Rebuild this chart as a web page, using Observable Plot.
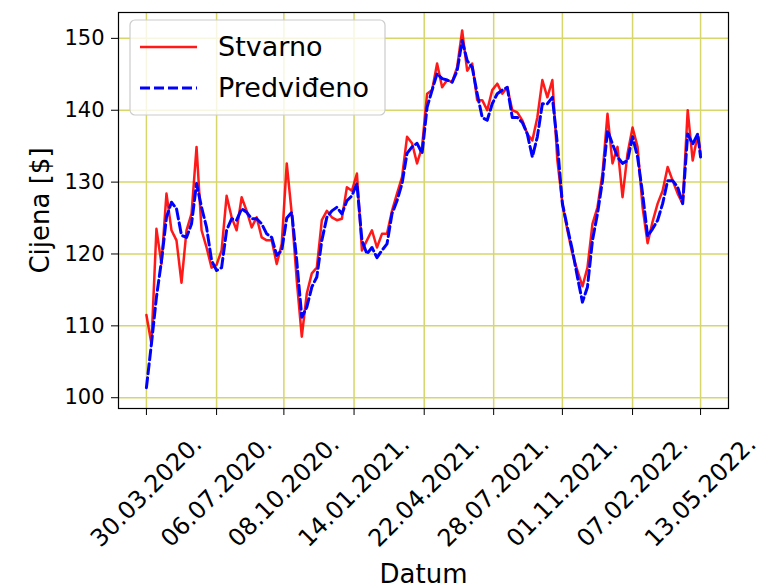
<!DOCTYPE html>
<html>
<head>
<meta charset="utf-8">
<script src="https://cdn.jsdelivr.net/npm/d3@7"></script>
<script src="https://cdn.jsdelivr.net/npm/@observablehq/plot@0.6"></script>
<style>
  html, body { margin: 0; padding: 0; background: white; }
</style>
</head>
<body>
<div id="chart"></div>
<script>
const dates = [
  "2020-03-30","2020-04-06","2020-04-13","2020-04-20","2020-04-27","2020-05-04","2020-05-11","2020-05-18","2020-05-25","2020-06-01",
  "2020-06-08","2020-06-15","2020-06-22","2020-06-29","2020-07-06","2020-07-13","2020-07-20","2020-07-27","2020-08-03","2020-08-10",
  "2020-08-17","2020-08-24","2020-08-31","2020-09-07","2020-09-14","2020-09-21","2020-09-28","2020-10-05","2020-10-12","2020-10-19",
  "2020-10-26","2020-11-02","2020-11-09","2020-11-16","2020-11-23","2020-11-30","2020-12-07","2020-12-14","2020-12-21","2020-12-28",
  "2021-01-04","2021-01-11","2021-01-18","2021-01-25","2021-02-01","2021-02-08","2021-02-15","2021-02-22","2021-03-01","2021-03-08",
  "2021-03-15","2021-03-22","2021-03-29","2021-04-05","2021-04-12","2021-04-19","2021-04-26","2021-05-03","2021-05-10","2021-05-17",
  "2021-05-24","2021-05-31","2021-06-07","2021-06-14","2021-06-21","2021-06-28","2021-07-05","2021-07-12","2021-07-19","2021-07-26",
  "2021-08-02","2021-08-09","2021-08-16","2021-08-23","2021-08-30","2021-09-06","2021-09-13","2021-09-20","2021-09-27","2021-10-04",
  "2021-10-11","2021-10-18","2021-10-25","2021-11-01","2021-11-08","2021-11-15","2021-11-22","2021-11-29","2021-12-06","2021-12-13",
  "2021-12-20","2021-12-27","2022-01-03","2022-01-10","2022-01-17","2022-01-24","2022-01-31","2022-02-07","2022-02-14","2022-02-21",
  "2022-02-28","2022-03-07","2022-03-14","2022-03-21","2022-03-28","2022-04-04","2022-04-11","2022-04-18","2022-04-25","2022-05-02",
  "2022-05-09","2022-05-13"
];

const actual = [
  111.5,107.5,123.5,118.6,128.4,123.3,121.9,116.0,123.3,125.6,
  134.9,123.3,120.9,118.1,118.5,120.5,128.1,125.1,123.3,127.9,
  126.0,123.7,125.1,122.3,121.9,121.9,118.6,121.4,132.6,125.6,
  116.3,108.5,114.5,117.3,118.1,124.7,126.0,125.1,124.7,124.9,
  129.3,128.8,131.2,120.5,121.9,123.3,120.9,122.8,122.8,126.0,
  128.4,130.7,136.3,135.4,132.6,134.9,142.3,142.8,146.5,143.2,
  144.2,143.9,146.0,151.1,145.5,146.5,141.4,141.4,140.0,142.8,
  143.7,142.3,143.2,140.0,139.7,138.6,136.7,135.8,139.0,144.2,
  141.8,144.2,133.0,127.0,123.3,120.0,117.7,115.5,118.1,124.2,
  126.5,131.2,139.5,132.6,134.9,127.9,134.0,137.6,134.9,126.5,
  121.5,124.5,127.0,128.8,132.1,130.2,128.4,127.0,140.0,133.0,
  136.7,133.9
];

const predicted = [
  101.4,107.5,114.0,119.0,125.1,127.2,126.3,122.6,122.3,124.2,
  129.8,126.5,123.7,119.1,117.7,118.1,123.3,124.9,124.7,126.3,
  125.8,124.9,124.9,124.2,122.8,122.3,119.8,120.5,125.0,125.8,
  119.0,111.2,112.6,115.4,116.8,121.9,125.1,126.0,126.5,125.6,
  127.4,128.1,129.8,121.9,120.0,120.9,119.5,120.5,121.4,125.6,
  127.4,129.8,134.0,134.9,135.4,134.0,140.4,142.8,145.1,144.4,
  144.2,143.9,145.5,149.7,146.9,146.0,142.3,139.0,138.6,140.9,
  142.3,142.8,143.2,139.0,139.0,138.3,136.7,133.5,136.3,140.9,
  140.9,141.8,135.3,127.0,123.7,120.5,116.8,113.3,115.4,121.9,
  125.6,130.2,137.2,135.3,133.5,132.6,133.0,136.3,133.5,128.4,
  122.5,123.5,124.7,127.0,130.2,130.2,129.3,127.0,136.7,135.3,
  136.7,133.5
];

const xTickDates = ["2020-03-30","2020-07-06","2020-10-08","2021-01-14","2021-04-22","2021-07-28","2021-11-01","2022-02-07","2022-05-13"];
const xTickLabels = ["30.03.2020.","06.07.2020.","08.10.2020.","14.01.2021.","22.04.2021.","28.07.2021.","01.11.2021.","07.02.2022.","13.05.2022."];
const yTicks = [100, 110, 120, 130, 140, 150];
const seriesNames = ["Stvarno", "Predviđeno"];
const xLabel = "Datum";
const yLabel = "Cijena [$]";

const data = dates.map((d, i) => ({date: new Date(d), actual: actual[i], predicted: predicted[i]}));
const tickTable = xTickDates.map((d, i) => ({date: new Date(d), label: xTickLabels[i]}));
const gridColor = "#d6d66a";

const chart = Plot.plot({
  width: 762,
  height: 588,
  marginLeft: 118,
  marginRight: 34,
  marginTop: 12,
  marginBottom: 180,
  style: {fontFamily: "DejaVu Sans", fontSize: "21px", color: "black", background: "white", overflow: "visible"},
  x: {type: "utc", domain: [new Date("2020-02-20"), new Date("2022-06-21")], ticks: tickTable.map(d => d.date), tickFormat: () => "", tickSize: 7, label: null},
  y: {domain: [98.5, 153.6], ticks: yTicks, tickSize: 7, tickPadding: 7, label: null},
  marks: [
    Plot.ruleX(tickTable.map(d => d.date), {stroke: gridColor, strokeWidth: 1.5}),
    Plot.ruleY(yTicks, {stroke: gridColor, strokeWidth: 1.5}),
    Plot.line(data, {x: "date", y: "actual", stroke: "#ff0000", strokeWidth: 2.5, strokeOpacity: 0.9}),
    Plot.line(data, {x: "date", y: "predicted", stroke: "#0000ff", strokeWidth: 3, strokeDasharray: "10,4"}),
    Plot.frame({stroke: "black", strokeWidth: 1.2}),
    Plot.text(tickTable, {x: "date", text: "label", frameAnchor: "bottom", rotate: -45, textAnchor: "middle", lineAnchor: "middle", dy: 83, fontSize: 24}),
    Plot.text([xLabel], {frameAnchor: "bottom", textAnchor: "middle", lineAnchor: "middle", dy: 166, fontSize: 26}),
    Plot.text([yLabel], {frameAnchor: "left", rotate: -90, textAnchor: "middle", lineAnchor: "middle", dx: -78, fontSize: 26})
  ]
});

// legend (inside the axes, upper left)
const svg = d3.select(chart);
const lg = svg.append("g").attr("font-family", "DejaVu Sans").attr("font-size", 27).attr("text-anchor", "start");
lg.append("rect").attr("x", 130).attr("y", 20).attr("width", 255).attr("height", 95).attr("rx", 5)
  .attr("fill", "white").attr("fill-opacity", 0.8).attr("stroke", "#cccccc").attr("stroke-width", 1.2);
lg.append("line").attr("x1", 140).attr("x2", 197).attr("y1", 47).attr("y2", 47)
  .attr("stroke", "#ff0000").attr("stroke-opacity", 0.9).attr("stroke-width", 2.5);
lg.append("line").attr("x1", 140).attr("x2", 197).attr("y1", 88).attr("y2", 88)
  .attr("stroke", "#0000ff").attr("stroke-width", 3).attr("stroke-dasharray", "10,4");
lg.append("text").attr("x", 218).attr("y", 47).attr("dy", "0.35em").attr("fill", "black").attr("text-anchor", "start").text(seriesNames[0]);
lg.append("text").attr("x", 218).attr("y", 88).attr("dy", "0.35em").attr("fill", "black").attr("text-anchor", "start").text(seriesNames[1]);

document.getElementById("chart").appendChild(chart);
</script>
</body>
</html>
